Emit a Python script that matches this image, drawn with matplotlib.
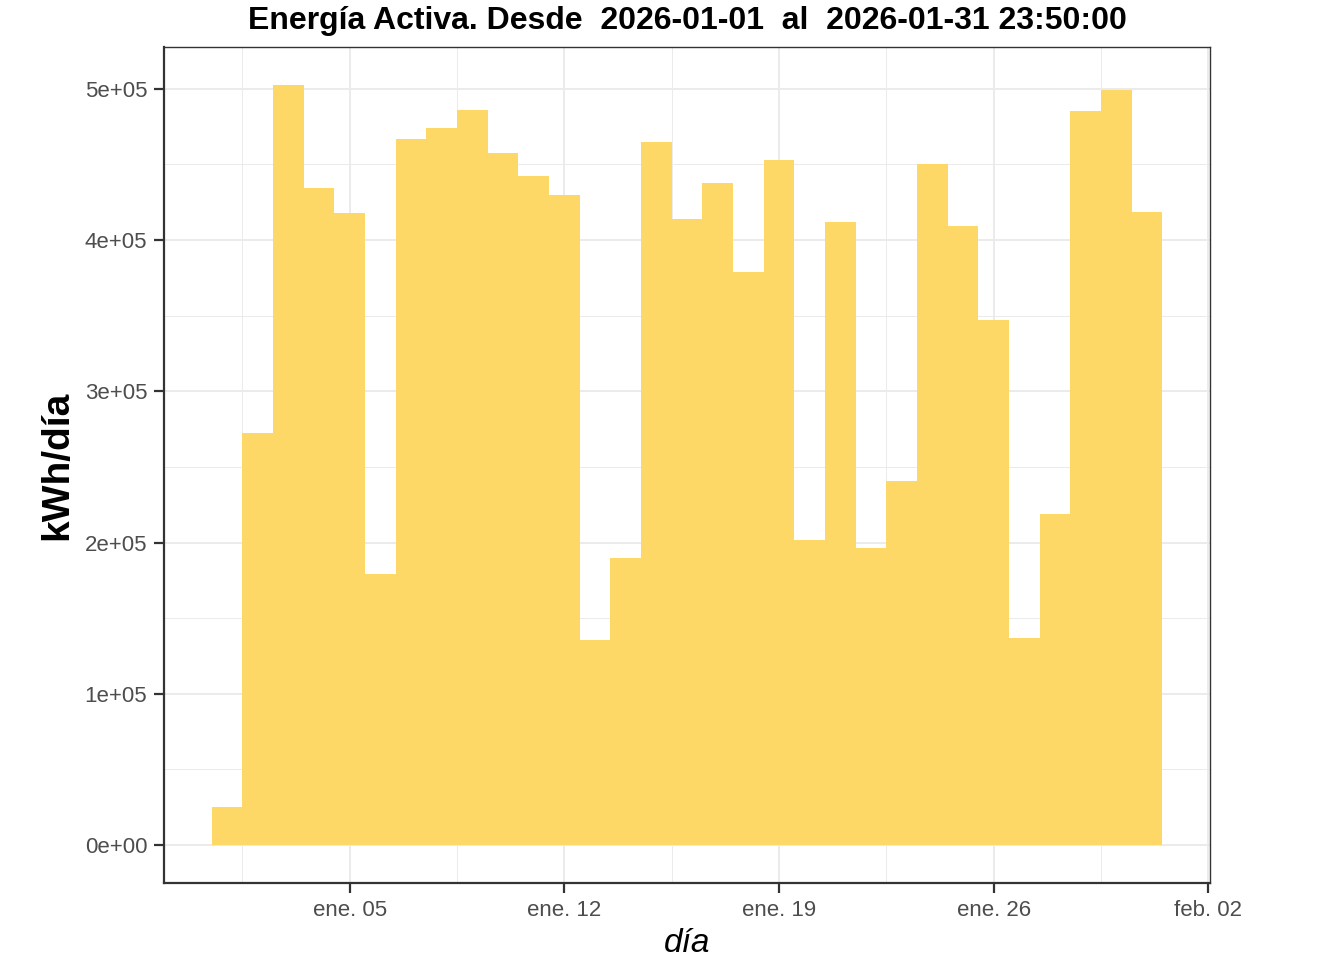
import numpy as np
import pandas as pd
import matplotlib
matplotlib.use('Agg')
import matplotlib.pyplot as plt
import matplotlib.dates as mdates
from matplotlib.ticker import FuncFormatter, MultipleLocator

# daily energy, kWh/day
dias = pd.date_range('2026-01-01', '2026-01-31', freq='D')
energia = [25100, 272500, 502600, 434500, 418000, 179200, 466900, 474200,
           486100, 457700, 442500, 429900, 135600, 189800, 464900, 414000,
           437800, 379000, 453000, 201700, 412000, 196400, 240700, 450400,
           409400, 347200, 136900, 218900, 485400, 499300, 418700]

meses = ['ene.', 'feb.', 'mar.', 'abr.', 'may.', 'jun.', 'jul.', 'ago.',
         'sept.', 'oct.', 'nov.', 'dic.']
tick_dias = pd.to_datetime(['2026-01-05', '2026-01-12', '2026-01-19',
                            '2026-01-26', '2026-02-02'])

plt.rcParams['font.family'] = ['Liberation Sans', 'DejaVu Sans']

fig = plt.figure(figsize=(13.44, 9.6), dpi=100)
ax = fig.add_axes([164 / 1344, 1 - 883 / 960, (1210 - 164) / 1344,
                   (883 - 47) / 960])

ax.bar(dias, energia, width=1.0, color='#FDD866', linewidth=0, zorder=3)

x0 = mdates.date2num(dias[0]) - 2.05
x1 = mdates.date2num(pd.Timestamp('2026-02-02')) + 0.05
ax.set_xlim(x0, x1)
ax.set_ylim(-25130, 527700)

ax.set_xticks(mdates.date2num(tick_dias))
ax.set_xticks(mdates.date2num(tick_dias) - 3.5, minor=True)
ax.xaxis.set_major_formatter(FuncFormatter(
    lambda v, p: f"{meses[mdates.num2date(v).month - 1]} {mdates.num2date(v).day:02d}"))
ax.yaxis.set_major_locator(MultipleLocator(100000))
ax.yaxis.set_minor_locator(MultipleLocator(50000))
ax.yaxis.set_major_formatter(FuncFormatter(
    lambda v, p: '0e+00' if v == 0 else f"{int(round(v / 1e5))}e+05"))

ax.grid(which='major', color='#EBEBEB', linewidth=1.4, zorder=0)
ax.grid(which='minor', color='#EBEBEB', linewidth=0.7, zorder=0)
ax.set_axisbelow(True)

for s in ['top', 'right']:
    ax.spines[s].set_color('#333333')
    ax.spines[s].set_linewidth(1.0)
for s in ['left', 'bottom']:
    ax.spines[s].set_color('#333333')
    ax.spines[s].set_linewidth(1.6)

ax.tick_params(which='major', length=7, width=1.6, color='#333333',
               labelsize=16, labelcolor='#4D4D4D', pad=5)
ax.tick_params(which='minor', length=0)

ax.set_title('Energía Activa. Desde  2026-01-01  al  2026-01-31 23:50:00',
             fontsize=23, fontweight='bold', pad=13)
ax.set_ylabel('kWh/día', fontsize=28, fontweight='bold', labelpad=7)
ax.set_xlabel('día', fontsize=24, fontstyle='italic', labelpad=5)

fig.savefig('out.png', dpi=100)
